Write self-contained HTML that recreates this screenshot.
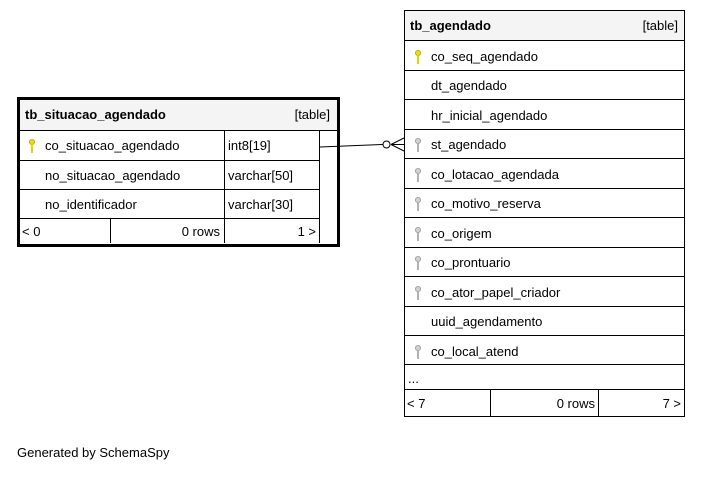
<!DOCTYPE html>
<html><head><meta charset="utf-8"><style>
html,body{margin:0;padding:0;background:#fff;}
svg text{font-family:"Liberation Sans",Arial,sans-serif;font-size:13px;fill:#000;}
</style></head><body>
<svg width="701" height="473" viewBox="0 0 701 473" xmlns="http://www.w3.org/2000/svg">
<defs>
<g id="ky"><circle cx="0" cy="-3" r="2.6" fill="#e8e000" stroke="#b0a800" stroke-width="0.8"/><rect x="-0.9" y="-1" width="1.8" height="9" fill="#d8d000"/></g>
<g id="kg"><circle cx="0" cy="-3" r="2.6" fill="#d0d0d0" stroke="#999" stroke-width="0.8"/><rect x="-0.9" y="-1" width="1.8" height="9" fill="#aaa"/></g>
</defs>
<!-- left table -->
<rect x="18.5" y="98.5" width="320" height="147" fill="#fff" stroke="#000" stroke-width="3"/>
<rect x="20" y="100" width="317" height="30" fill="#f4f4f4"/>
<g stroke="#000" stroke-width="1" fill="none">
<line x1="20" y1="130.5" x2="337" y2="130.5"/>
<line x1="20" y1="160.5" x2="320" y2="160.5"/>
<line x1="20" y1="189.5" x2="320" y2="189.5"/>
<line x1="20" y1="218.5" x2="320" y2="218.5"/>
<line x1="224.5" y1="130" x2="224.5" y2="243"/>
<line x1="319.5" y1="130" x2="319.5" y2="243"/>
<line x1="110.5" y1="218" x2="110.5" y2="243"/>
</g>
<text x="25" y="119" style="font-weight:bold">tb_situacao_agendado</text>
<text x="330" y="119" text-anchor="end">[table]</text>
<use href="#ky" x="32" y="145"/>
<text x="45" y="150">co_situacao_agendado</text><text x="228" y="150">int8[19]</text>
<text x="45" y="180">no_situacao_agendado</text><text x="228" y="180">varchar[50]</text>
<text x="45" y="209">no_identificador</text><text x="228" y="209">varchar[30]</text>
<text x="22" y="236">&lt; 0</text><text x="220" y="236" text-anchor="end">0 rows</text><text x="316" y="236" text-anchor="end">1 &gt;</text>
<!-- connector -->
<g stroke="#000" stroke-width="1" fill="none">
<line x1="320" y1="147" x2="383" y2="144.5"/>
<circle cx="386.5" cy="144.5" r="3.5" fill="#fff"/>
<line x1="391" y1="144.5" x2="404" y2="138"/>
<line x1="391" y1="144.5" x2="404" y2="151"/>
<line x1="391" y1="144.5" x2="404" y2="144.5"/>
</g>
<!-- right table -->
<rect x="404.5" y="10.5" width="280" height="406" fill="#fff" stroke="#000" stroke-width="1"/>
<rect x="405" y="11" width="279" height="29" fill="#f4f4f4"/>
<g stroke="#000" stroke-width="1">
<line x1="404" y1="40.5" x2="685" y2="40.5"/>
<line x1="404" y1="70.5" x2="685" y2="70.5"/>
<line x1="404" y1="99.5" x2="685" y2="99.5"/>
<line x1="404" y1="129.5" x2="685" y2="129.5"/>
<line x1="404" y1="158.5" x2="685" y2="158.5"/>
<line x1="404" y1="188.5" x2="685" y2="188.5"/>
<line x1="404" y1="217.5" x2="685" y2="217.5"/>
<line x1="404" y1="247.5" x2="685" y2="247.5"/>
<line x1="404" y1="276.5" x2="685" y2="276.5"/>
<line x1="404" y1="306.5" x2="685" y2="306.5"/>
<line x1="404" y1="335.5" x2="685" y2="335.5"/>
<line x1="404" y1="364.5" x2="685" y2="364.5"/>
<line x1="404" y1="389.5" x2="685" y2="389.5"/>
<line x1="490.5" y1="389" x2="490.5" y2="416"/>
<line x1="598.5" y1="389" x2="598.5" y2="416"/>
</g>
<text x="410" y="30" style="font-weight:bold">tb_agendado</text>
<text x="678" y="30" text-anchor="end">[table]</text>
<use href="#ky" x="418" y="56"/><text x="431" y="61">co_seq_agendado</text>
<text x="431" y="90">dt_agendado</text>
<text x="431" y="120">hr_inicial_agendado</text>
<use href="#kg" x="418" y="144"/><text x="431" y="149">st_agendado</text>
<use href="#kg" x="418" y="174"/><text x="431" y="179">co_lotacao_agendada</text>
<use href="#kg" x="418" y="203"/><text x="431" y="208">co_motivo_reserva</text>
<use href="#kg" x="418" y="233"/><text x="431" y="238">co_origem</text>
<use href="#kg" x="418" y="262"/><text x="431" y="267">co_prontuario</text>
<use href="#kg" x="418" y="292"/><text x="431" y="297">co_ator_papel_criador</text>
<text x="431" y="326">uuid_agendamento</text>
<use href="#kg" x="418" y="351"/><text x="431" y="356">co_local_atend</text>
<text x="408" y="383">...</text>
<text x="407" y="408">&lt; 7</text><text x="595" y="408" text-anchor="end">0 rows</text><text x="681" y="408" text-anchor="end">7 &gt;</text>
<text x="17" y="457">Generated by SchemaSpy</text>
</svg>
</body></html>
